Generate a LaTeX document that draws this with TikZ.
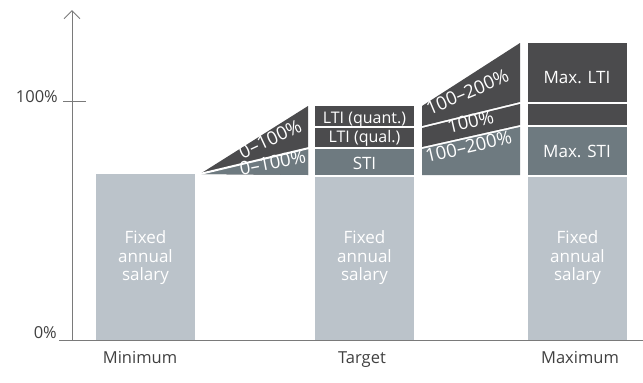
\documentclass[tikz,border=0pt]{standalone}
\usepackage{fontspec}
\setmainfont{Open Sans}
\usetikzlibrary{arrows.meta}
\definecolor{fixc}{HTML}{BBC3CA}
\definecolor{stic}{HTML}{6E7A80}
\definecolor{ltic}{HTML}{4B4B4D}
\definecolor{axisc}{HTML}{7A7A7A}
\definecolor{txtc}{HTML}{404040}
\begin{document}
\begin{tikzpicture}[x=1pt,y=-1pt,
  lbl/.style={text=white,font=\fontsize{17}{18.5}\selectfont,inner sep=0pt,align=center},
  slbl/.style={text=white,font=\fontsize{16}{17}\selectfont,inner sep=0pt},
  wlbl/.style={text=white,font=\fontsize{18.5}{20}\selectfont,inner sep=0pt,anchor=base},
  axlbl/.style={text=txtc,font=\fontsize{16.5}{18}\selectfont,inner sep=0pt},
  sep/.style={white,line width=2pt}]
\useasboundingbox (0,0) rectangle (643,383);
% bars: Minimum
\fill[fixc] (96,174) rectangle (195,340);
% Target
\fill[fixc] (315,177) rectangle (414,340);
\fill[stic] (315,149) rectangle (414,175);
\fill[ltic] (315,128) rectangle (414,147);
\fill[ltic] (315,106) rectangle (414,126);
% Maximum
\fill[fixc] (528,177) rectangle (627,340);
\fill[stic] (528,127) rectangle (627,175);
\fill[ltic] (528,104) rectangle (627,125);
\fill[ltic] (528,43) rectangle (627,102);
% wedge 1
\fill[ltic] (200,174) -- (308,106) -- (308,175) -- cycle;
\fill[stic] (200,174) -- (308,148) -- (308,175) -- cycle;
\draw[sep] (200,174) -- (309,148);
% wedge 2
\fill[ltic] (422,106) -- (520,43) -- (520,102) -- (422,126) -- cycle;
\fill[ltic] (422,128) -- (520,104) -- (520,125) -- (422,147) -- cycle;
\fill[stic] (422,149) -- (520,127) -- (520,175) -- (422,175) -- cycle;
% axes
\coordinate (yo) at (72,340);
\coordinate (yt) at (72,10);
\coordinate (xl) at (59,340);
\coordinate (xr) at (643,340);
\coordinate (t1) at (63,101);
\coordinate (t2) at (86,101);
\draw[axisc,line width=1pt,-{Straight Barb[length=8pt,width=16pt,line width=1pt]}] (yo) -- (yt);
\draw[axisc,line width=1pt] (xl) -- (xr);
\draw[axisc,line width=1pt] (t1) -- (t2);
\node[axlbl,anchor=base east] (p100) at (58,102) {100\%};
\node[axlbl,anchor=base east] (p0) at (57,338) {0\%};
\node[axlbl,anchor=base] (nmin) at (140,363) {Minimum};
\node[axlbl,anchor=base] (ntar) at (362,363) {Target};
\node[axlbl,anchor=base] (nmax) at (580,363) {Maximum};
% bar labels
\node[lbl] (f1) at (145.5,258) {Fixed\\annual\\salary};
\node[lbl] (f2) at (364.5,258) {Fixed\\annual\\salary};
\node[lbl] (f3) at (577.5,258) {Fixed\\annual\\salary};
\node[slbl,anchor=base] (lq) at (364.5,123) {LTI (quant.)};
\node[slbl,anchor=base] (ll) at (364.5,142) {LTI (qual.)};
\node[lbl,anchor=base] (st) at (364.5,169) {STI};
\node[lbl,anchor=base] (ml) at (577,83) {Max. LTI};
\node[lbl,anchor=base] (ms) at (577,157) {Max. STI};
% wedge labels
\node[wlbl,rotate=25] (w1a) at (273,145) {0–100\%};
\node[wlbl,rotate=11] (w1b) at (274,169) {0–100\%};
\node[wlbl,rotate=23] (w2a) at (470,98) {100–200\%};
\node[wlbl,rotate=13] (w2b) at (472,128) {100\%};
\node[wlbl,rotate=13] (w2c) at (470,153) {100–200\%};
\end{tikzpicture}
\end{document}
